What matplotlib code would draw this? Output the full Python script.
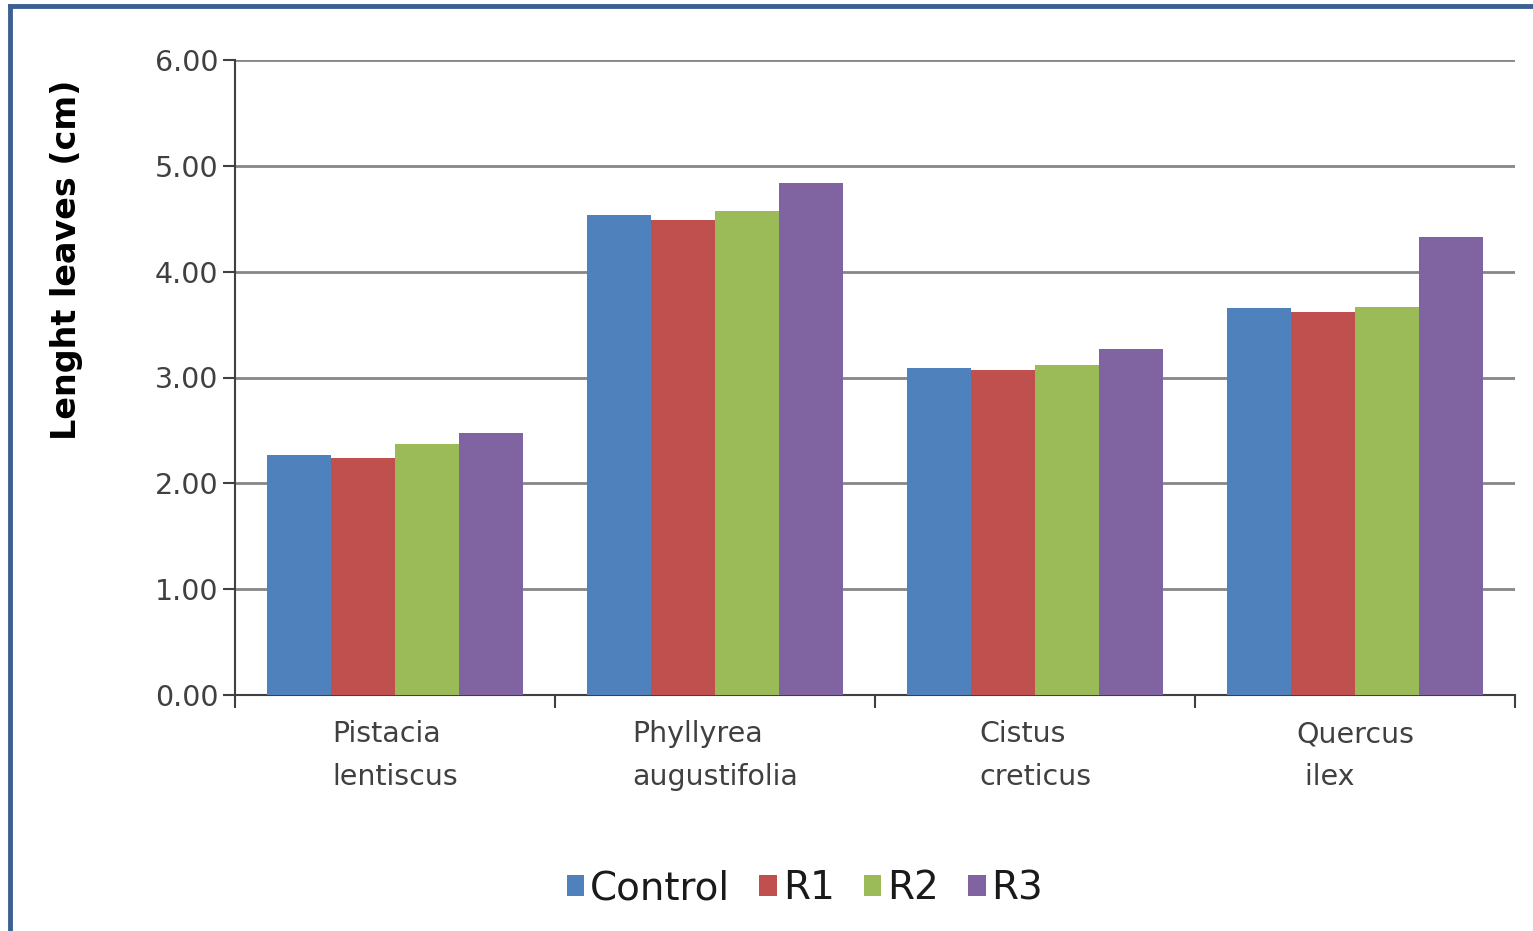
import matplotlib
matplotlib.use("Agg")
import matplotlib.pyplot as plt
import numpy as np
from matplotlib.lines import Line2D
from matplotlib.patches import Patch

categories = ["Pistacia\nlentiscus", "Phyllyrea\naugustifolia", "Cistus\ncreticus", "Quercus\n ilex"]
series_names = ["Control", "R1", "R2", "R3"]
control = [2.27, 4.54, 3.09, 3.66]
r1 = [2.24, 4.49, 3.07, 3.62]
r2 = [2.37, 4.57, 3.12, 3.67]
r3 = [2.48, 4.84, 3.27, 4.33]
colors = ["#4F81BD", "#C0504D", "#9BBB59", "#8064A2"]
yticks = [0, 1, 2, 3, 4, 5, 6]
ylabel = "Lenght leaves (cm)"

plt.rcParams['font.family'] = ['DejaVu Sans']

W, H = 1533, 931
fig = plt.figure(figsize=(W / 100, H / 100), dpi=100)
ax = fig.add_axes([235 / W, 1 - 695 / H, (1515 - 235) / W, (695 - 60) / H])

x = np.arange(len(categories))
bw = 0.2
data = [control, r1, r2, r3]
for i, (vals, c) in enumerate(zip(data, colors)):
    ax.bar(x + (i - 1.5) * bw, vals, width=bw, color=c, zorder=3, linewidth=0)

ax.set_xlim(-0.5, len(categories) - 0.5)
ax.set_ylim(0, 6)
ax.set_yticks(yticks)
ax.set_yticklabels([f"{v:.2f}" for v in yticks])
ax.yaxis.grid(True, color="#868686", linewidth=2, zorder=0)
ax.set_axisbelow(True)

ax.set_xticks(x)
ax.set_xticklabels(categories, multialignment="left", linespacing=1.7)
ax.set_xticks(np.arange(-0.5, len(categories)), minor=True)
ax.tick_params(axis="x", which="major", length=0, pad=18, labelsize=20.5, labelcolor="#404040")
ax.tick_params(axis="x", which="minor", length=9, width=1.5, color="#404040", direction="out")
ax.tick_params(axis="y", length=9, width=1.5, color="#404040", labelsize=20.5, labelcolor="#404040", pad=3)

for s in ["top", "right"]:
    ax.spines[s].set_visible(False)
for s in ["left", "bottom"]:
    ax.spines[s].set_color("#404040")
    ax.spines[s].set_linewidth(1.5)

fig.text(67 / W, 1 - 260 / H, ylabel, rotation=90, ha="center", va="center",
         fontsize=24, fontweight="bold", color="#000000")

handles = [Patch(facecolor=c, edgecolor="none") for c in colors]
fig.legend(handles, series_names, loc="center", bbox_to_anchor=(805 / W, 1 - 888 / H),
           ncol=4, frameon=False, fontsize=28, handlelength=0.45, handleheight=0.45,
           handletextpad=0.15, columnspacing=0.75, labelcolor="#1a1a1a")

# frame (left and top visible)
fig.add_artist(Line2D([10 / W, 10 / W], [0, 1 - 5.5 / H], transform=fig.transFigure,
                      color="#3C6090", linewidth=3.5))
fig.add_artist(Line2D([10 / W, 1], [1 - 5.5 / H, 1 - 5.5 / H], transform=fig.transFigure,
                      color="#3C6090", linewidth=3.5))

fig.savefig("out.png", dpi=100)
